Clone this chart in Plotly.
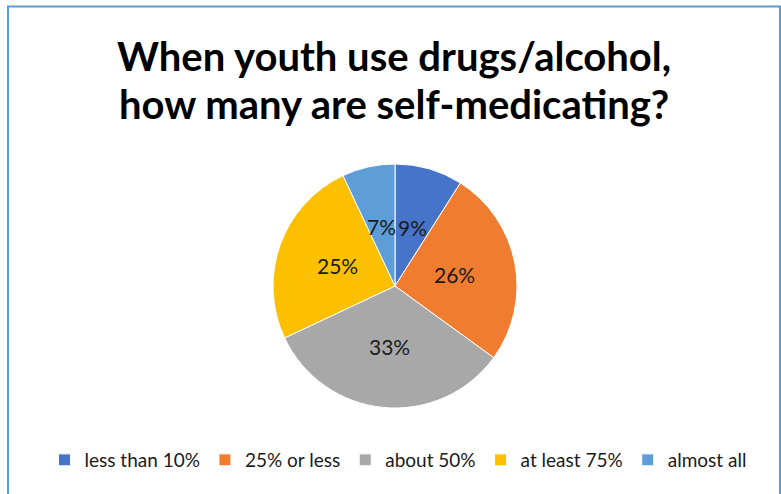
import math
import plotly.graph_objects as go

categories = ["less than 10%", "25% or less", "about 50%", "at least 75%", "almost all"]
values = [9, 26, 33, 25, 7]
colors = ["#4674C8", "#F07C30", "#A8A8A8", "#FCC000", "#5E9DD8"]
title_lines = ["When youth use drugs/alcohol,", "how many are self-medicating?"]

W, H = 781, 494
cx, cy, r = 395, 286, 122

fig = go.Figure(go.Pie(
    labels=categories,
    values=values,
    sort=False,
    direction="clockwise",
    rotation=0,
    marker=dict(colors=colors, line=dict(color="white", width=1)),
    textinfo="none",
    domain=dict(x=[(cx - r) / W, (cx + r) / W], y=[(H - cy - r) / H, (H - cy + r) / H]),
    hoverinfo="label+percent",
))

# percentage labels placed at half radius along each slice's bisector
total = sum(values)
annotations = []
cum = 0
for v in values:
    mid = (cum + v / 2) / total * 2 * math.pi
    cum += v
    lx = cx + 0.5 * r * math.sin(mid)
    ly = cy - 0.5 * r * math.cos(mid)
    annotations.append(dict(
        x=lx / W, y=1 - ly / H, xref="paper", yref="paper",
        text=f"{round(100 * v / total)}%", showarrow=False,
        xanchor="center", yanchor="middle",
        font=dict(family="Lato", size=21, color="#1a1a1a"),
    ))

for line, ypix in zip(title_lines, [56, 104]):
    annotations.append(dict(
        x=394 / W, y=1 - ypix / H, xref="paper", yref="paper",
        text=f"<b>{line}</b>", showarrow=False,
        xanchor="center", yanchor="middle",
        font=dict(family="Lato", size=40, color="black"),
    ))

fig.update_layout(
    width=W, height=H,
    margin=dict(l=0, r=0, t=0, b=0),
    paper_bgcolor="white",
    showlegend=True,
    legend=dict(
        orientation="h",
        x=398 / W, xanchor="center",
        y=(H - 460) / H, yanchor="middle",
        font=dict(family="Lato", size=19, color="#1a1a1a"),
        itemwidth=30,
        traceorder="normal",
    ),
    annotations=annotations,
    shapes=[dict(
        type="rect", xref="paper", yref="paper",
        x0=8 / W, x1=780 / W, y0=-0.05, y1=(H - 6.5) / H,
        line=dict(color="#5B9BD5", width=2),
    )],
)

fig.write_html(
    "out.html",
    config={"displayModeBar": False},
    post_script="document.body.style.margin='0px';",
)
